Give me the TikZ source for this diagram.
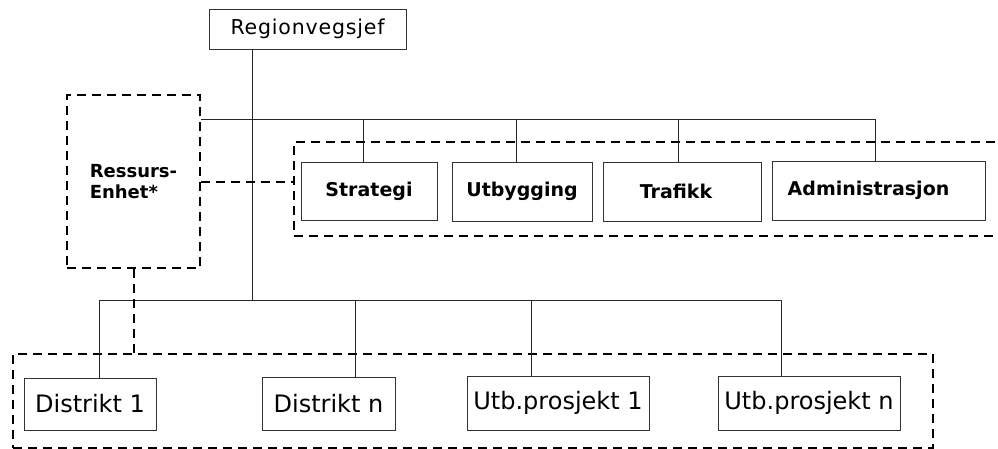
\documentclass[tikz,border=0pt]{standalone}
\usepackage{fontspec}
\setmainfont{DejaVu Sans}
\begin{document}
\begin{tikzpicture}[x=1pt,y=-1pt,
  box/.style={draw=black!80, line width=0.9pt, fill=white, inner sep=0pt},
  topbox/.style={box, font=\bfseries\fontsize{19}{21}\selectfont},
  lowbox/.style={box, font=\fontsize{24}{26}\selectfont},
  grp/.style={draw=black, line width=2pt, dash pattern=on 9pt off 6pt, inner sep=0pt},
  conn/.style={draw=black!85, line width=0.9pt},
  dconn/.style={draw=black, line width=2pt, dash pattern=on 9pt off 6pt}]
\useasboundingbox (0,0) rectangle (998,448);
% group frames
\node[grp, minimum width=716pt, minimum height=94pt] (topgrp) at (652,189) {};
\node[grp, minimum width=920pt, minimum height=94pt] (botgrp) at (473,401) {};
\node[grp, minimum width=133pt, minimum height=173pt, align=left,
      font=\bfseries\fontsize{18}{21}\selectfont] (ress) at (133.5,181.5) {Ressurs-\\Enhet*};
% boxes
\node[box, minimum width=197pt, minimum height=40pt,
      font=\fontsize{20.5}{22}\selectfont\addfontfeature{LetterSpace=4}] (reg) at (307.5,29) {Regionvegsjef};
\node[topbox, minimum width=136pt, minimum height=58pt] (strat) at (369,191) {Strategi};
\node[topbox, minimum width=140pt, minimum height=59pt] (utb) at (522,191.5) {Utbygging};
\node[topbox, minimum width=158pt, minimum height=59pt, text depth=0pt] (traf) at (682,191.5) {\hspace*{-12pt}Trafikk};
\node[topbox, minimum width=213pt, minimum height=59pt] (adm) at (878.5,190.5) {\hspace*{-20pt}Administrasjon};
\node[lowbox, minimum width=132pt, minimum height=52pt] (d1) at (90,404) {Distrikt 1};
\node[lowbox, minimum width=133pt, minimum height=53pt] (dn) at (328.5,403.5) {Distrikt n};
\node[lowbox, minimum width=182pt, minimum height=54pt] (u1) at (558,403) {Utb.prosjekt 1};
\node[lowbox, minimum width=182pt, minimum height=54pt] (un) at (809,403) {Utb.prosjekt n};
% bus coordinates
\coordinate (tb) at (252,119);
\coordinate (bb) at (252,300);
\coordinate (sd) at ([xshift=-6pt]strat.north);
\coordinate (ud) at ([xshift=-6pt]utb.north);
\coordinate (td) at ([xshift=-4pt]traf.north);
\coordinate (ad) at ([xshift=-3.5pt]adm.north);
\coordinate (d1d) at ([xshift=9pt]d1.north);
\coordinate (dnd) at ([xshift=26.5pt]dn.north);
\coordinate (u1d) at ([xshift=-27pt]u1.north);
\coordinate (und) at ([xshift=-28pt]un.north);
% connectors
\draw[conn] (reg.south -| tb) -- (bb);
\draw[conn] (ress.east |- tb) -- (ad |- tb);
\foreach \c in {sd,ud,td,ad} \draw[conn] (\c |- tb) -- (\c);
\draw[conn] (d1d |- bb) -- (und |- bb);
\foreach \c in {d1d,dnd,u1d,und} \draw[conn] (\c |- bb) -- (\c);
\draw[dconn] (ress.east) -- (ress.east -| topgrp.west);
\draw[dconn] (ress.south) -- (ress.south |- botgrp.north);
\end{tikzpicture}
\end{document}
